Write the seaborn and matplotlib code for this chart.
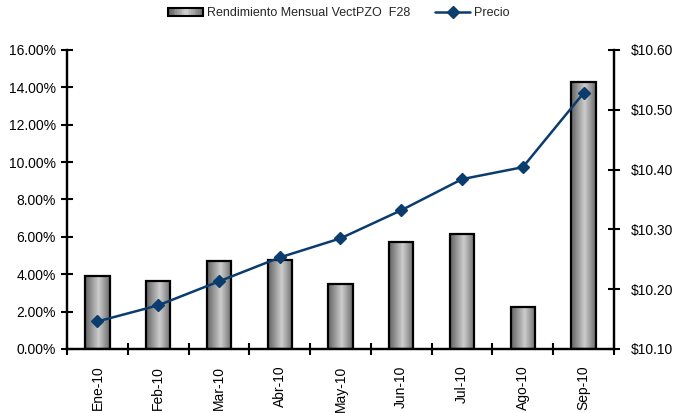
import numpy as np
import pandas as pd
import matplotlib
matplotlib.use("Agg")
import matplotlib.pyplot as plt
import seaborn as sns
from matplotlib.patches import Rectangle
from matplotlib.lines import Line2D
from matplotlib.legend_handler import HandlerBase
from matplotlib.ticker import FixedLocator, FuncFormatter

# ── Data ─────────────────────────────────────────────────────
meses = ["Ene-10", "Feb-10", "Mar-10", "Abr-10", "May-10",
         "Jun-10", "Jul-10", "Ago-10", "Sep-10"]
rendimiento = [3.93, 3.63, 4.72, 4.78, 3.49, 5.72, 6.15, 2.22, 14.30]   # %
precio = [10.146, 10.173, 10.213, 10.253, 10.285, 10.332, 10.384, 10.404, 10.528]

bar_label = "Rendimiento Mensual VectPZO  F28"
line_label = "Precio"
LINE_C = "#0a3c6e"

sns.set_theme(style="white")
plt.rcParams["font.family"] = ["Liberation Sans", "DejaVu Sans"]

df = pd.DataFrame({"Mes": meses, "Rend": rendimiento})

fig = plt.figure(figsize=(6.78, 4.13), dpi=100)
ax = fig.add_axes([0.0988, 0.155, 0.8068, 0.724])

sns.barplot(data=df, x="Mes", y="Rend", ax=ax, width=0.4,
            color="#999999", saturation=1)

# cylinder-like gray gradient on each bar
grad = np.concatenate([np.linspace(0.38, 0.80, 55), np.linspace(0.80, 0.42, 45)])
grad_img = np.tile(grad, (2, 1))
for p in list(ax.patches):
    x0, y0 = p.get_x(), p.get_y()
    w, h = p.get_width(), p.get_height()
    im = ax.imshow(grad_img, cmap="gray", vmin=0, vmax=1, aspect="auto",
                   extent=(x0, x0 + w, y0, y0 + h), zorder=2,
                   interpolation="bilinear")
    im.set_clip_path(p)
    p.set_facecolor("none")
    p.set_edgecolor("black")
    p.set_linewidth(1.6)
    p.set_zorder(3)

ax.set_xlim(-0.5, len(meses) - 0.5)
ax.set_ylim(0, 16)
ax.yaxis.set_major_locator(FixedLocator(np.arange(0, 16.1, 2)))
ax.yaxis.set_major_formatter(FuncFormatter(lambda v, _: f"{v:.2f}%"))
ax.set_xlabel("")
ax.set_ylabel("")
ax.tick_params(axis="x", which="major", length=0, rotation=90, labelsize=10, pad=12)
ax.xaxis.set_minor_locator(FixedLocator(np.arange(-0.5, len(meses), 1)))
ax.tick_params(axis="x", which="minor", direction="inout", length=8, width=1.5,
               color="black", bottom=True)
ax.tick_params(axis="y", direction="inout", length=8, width=1.5,
               color="black", left=True, labelsize=10, pad=4)

# price line on secondary axis
ax2 = ax.twinx()
ax2.plot(np.arange(len(meses)), precio, color=LINE_C, lw=1.8,
         marker="D", markersize=6, zorder=5)
ax2.set_ylim(10.10, 10.60)
ax2.yaxis.set_major_locator(FixedLocator(np.arange(10.10, 10.601, 0.10)))
ax2.yaxis.set_major_formatter(FuncFormatter(lambda v, _: f"${v:.2f}"))
ax2.tick_params(axis="y", direction="inout", length=8, width=1.5,
                color="black", right=True, labelsize=10, pad=8)
ax2.grid(False)

for a in (ax, ax2):
    a.spines["top"].set_visible(False)
    for s in ("left", "right", "bottom"):
        a.spines[s].set_color("black")
        a.spines[s].set_linewidth(1.6)
    for t in a.get_xticklabels() + a.get_yticklabels():
        t.set_color("black")


# legend handle with gradient
class GradientHandler(HandlerBase):
    def create_artists(self, legend, orig_handle, xdescent, ydescent,
                       width, height, fontsize, trans):
        arts = []
        n = 20
        vals = np.concatenate([np.linspace(0.38, 0.8, n // 2), np.linspace(0.8, 0.42, n // 2)])
        for i, v in enumerate(vals):
            r = Rectangle((xdescent + i * width / n, ydescent + height * 0.05),
                          width / n, height * 0.9, facecolor=str(v),
                          edgecolor="none", transform=trans)
            arts.append(r)
        arts.append(Rectangle((xdescent, ydescent + height * 0.05), width, height * 0.9,
                              facecolor="none", edgecolor="black", lw=1.5,
                              transform=trans))
        return arts


bar_handle = Rectangle((0, 0), 1, 1)
line_handle = Line2D([], [], color=LINE_C, lw=1.8, marker="D", markersize=6)
fig.legend([bar_handle, line_handle], [bar_label, line_label],
           handler_map={Rectangle: GradientHandler()},
           loc="upper center", bbox_to_anchor=(0.5, 1.01), ncol=2,
           frameon=False, fontsize=9, handlelength=2.8, columnspacing=2.0,
           handletextpad=0.3)

fig.savefig("out.png", dpi=100)
